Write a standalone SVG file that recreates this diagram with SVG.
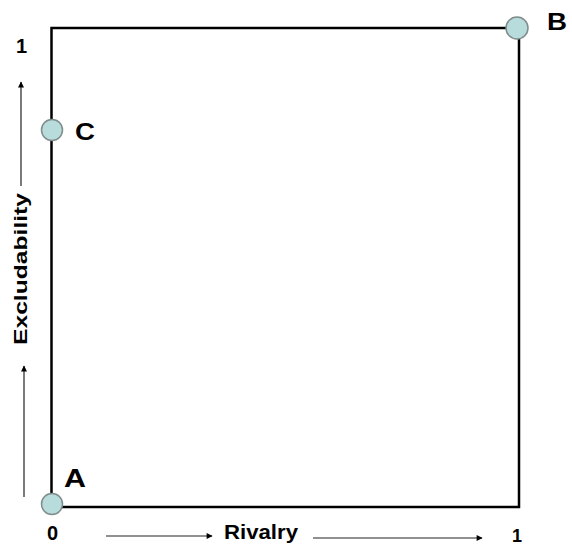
<svg xmlns="http://www.w3.org/2000/svg" width="572" height="546" viewBox="0 0 572 546">
<style>
.lbl{font-family:"Liberation Sans",Arial,sans-serif;font-weight:bold;fill:#000}
.pt{fill:#b8dcdc;stroke:#7f8c8c;stroke-width:1.5}
.ax{stroke:#222;stroke-width:1.2;fill:none}
</style>
<defs>
<marker id="ah" viewBox="0 0 10 10" refX="9" refY="5" markerWidth="7" markerHeight="6" markerUnits="userSpaceOnUse" orient="auto">
<path d="M0,0 L10,5 L0,10 z" fill="#000"/>
</marker>
</defs>
<rect width="572" height="546" fill="#fff"/>
<g id="box"><rect x="51.5" y="28" width="467.5" height="479" fill="none" stroke="#000" stroke-width="2.5"/></g>
<g id="connectors">
<line class="ax" x1="21" y1="186" x2="21" y2="82" marker-end="url(#ah)"/>
<line class="ax" x1="24" y1="497" x2="24" y2="366" marker-end="url(#ah)"/>
<line class="ax" x1="106" y1="536" x2="212" y2="536" marker-end="url(#ah)"/>
<line class="ax" x1="313" y1="538" x2="482" y2="538" marker-end="url(#ah)"/>
</g>
<g id="nodeA"><circle class="pt" cx="52" cy="504" r="10.5"/><text class="lbl" x="64" y="487" font-size="25" textLength="22" lengthAdjust="spacingAndGlyphs">A</text></g>
<g id="nodeB"><circle class="pt" cx="517" cy="28" r="11"/><text class="lbl" x="547" y="30" font-size="24" textLength="20" lengthAdjust="spacingAndGlyphs">B</text></g>
<g id="nodeC"><circle class="pt" cx="52" cy="130" r="10.5"/><text class="lbl" x="75" y="140" font-size="24" textLength="20" lengthAdjust="spacingAndGlyphs">C</text></g>
<g id="labels">
<text class="lbl" x="16" y="53" font-size="20">1</text>
<text class="lbl" x="47" y="540" font-size="20">0</text>
<text class="lbl" x="512" y="542" font-size="18">1</text>
<text class="lbl" x="224" y="539" font-size="20" textLength="74" lengthAdjust="spacingAndGlyphs">Rivalry</text>
<text class="lbl" font-size="19" transform="translate(27,345) rotate(-90)" textLength="152" lengthAdjust="spacingAndGlyphs">Excludability</text>
</g>
</svg>
